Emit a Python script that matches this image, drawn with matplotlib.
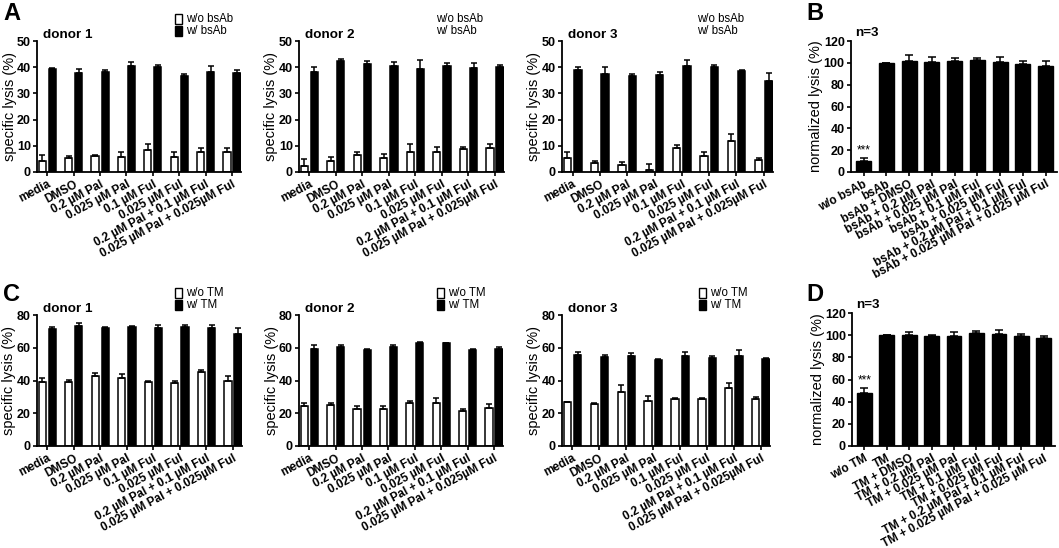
import matplotlib
matplotlib.use("Agg")
import matplotlib.pyplot as plt
import numpy as np
from matplotlib.patches import Rectangle

plt.rcParams['font.family'] = ['Liberation Sans', 'DejaVu Sans']

# ---------------- data ----------------
groups = ["media", "DMSO", "0.2 µM Pal", "0.025 µM Pal", "0.1 µM Ful",
          "0.025 µM Ful", "0.2 µM Pal + 0.1 µM Ful", "0.025 µM Pal + 0.025µM Ful"]

# Panel A (bsAb)
a1_wo = [4.1, 5.3, 6.0, 5.7, 8.5, 5.7, 7.8, 7.5]
a1_wo_err = [2.2, 0.9, 0.6, 1.8, 2.3, 2.1, 1.3, 1.6]
a1_w = [39.2, 37.8, 38.2, 40.4, 40.1, 36.5, 38.1, 37.8]
a1_w_err = [0.5, 1.7, 0.9, 1.4, 0.7, 0.8, 2.5, 1.3]

a2_wo = [2.2, 4.1, 6.3, 5.3, 7.8, 7.8, 8.7, 9.1]
a2_wo_err = [2.7, 1.8, 1.2, 1.4, 2.7, 1.9, 0.7, 1.5]
a2_w = [38.2, 42.4, 41.4, 40.3, 39.2, 40.6, 39.7, 40.1]
a2_w_err = [1.8, 0.8, 1.0, 1.6, 3.5, 1.0, 1.8, 0.9]

a3_wo = [5.3, 3.4, 2.5, 0.8, 9.0, 6.0, 12.0, 4.4]
a3_wo_err = [2.3, 0.8, 1.3, 2.4, 1.3, 1.7, 2.4, 0.9]
a3_w = [38.9, 37.3, 36.7, 37.2, 40.6, 39.9, 38.4, 34.8]
a3_w_err = [1.2, 2.6, 0.6, 0.8, 2.3, 0.9, 0.7, 3.0]

# Panel B (normalized, bsAb)
b_labels = ["w/o bsAb", "bsAb", "bsAb + DMSO", "bsAb + 0.2 µM Pal", "bsAb + 0.025 µM Pal",
            "bsAb + 0.1 µM Ful", "bsAb + 0.025 µM Ful", "bsAb + 0.2 µM Pal + 0.1 µM Ful",
            "bsAb + 0.025 µM Pal + 0.025 µM Ful"]
b_vals = [10.0, 100.0, 101.4, 100.5, 101.7, 103.0, 100.5, 99.3, 97.5]
b_err = [3.0, 0.0, 5.5, 4.9, 3.0, 1.0, 4.9, 2.7, 4.5]

# Panel C (TM)
c1_wo = [39.2, 39.2, 42.5, 41.4, 39.0, 38.2, 45.1, 40.0]
c1_wo_err = [2.6, 1.4, 2.0, 2.5, 0.8, 1.2, 1.5, 2.9]
c1_w = [71.2, 73.2, 71.8, 72.6, 72.2, 72.8, 72.2, 68.5]
c1_w_err = [1.6, 1.7, 1.0, 0.6, 1.8, 1.2, 1.6, 3.5]

c2_wo = [24.4, 25.2, 22.4, 22.4, 26.5, 26.5, 21.5, 23.0]
c2_wo_err = [1.6, 0.8, 2.0, 2.0, 0.8, 2.6, 0.9, 2.6]
c2_w = [59.5, 60.5, 58.5, 60.5, 62.6, 62.6, 58.9, 59.5]
c2_w_err = [2.2, 1.2, 0.8, 1.2, 0.8, 0.6, 0.6, 1.2]

c3_wo = [26.6, 25.8, 32.7, 27.4, 29.0, 28.6, 35.3, 29.0]
c3_wo_err = [0.3, 0.3, 4.4, 3.2, 0.6, 0.6, 3.2, 1.2]
c3_w = [55.8, 54.2, 54.8, 52.7, 55.2, 53.8, 54.8, 53.3]
c3_w_err = [1.4, 1.6, 2.0, 0.6, 2.0, 1.2, 3.6, 0.5]

# Panel D (normalized, TM)
d_labels = ["w/o TM", "TM", "TM + DMSO", "TM + 0.2 µM Pal", "TM + 0.025 µM Pal",
            "TM + 0.1 µM Ful", "TM + 0.025 µM Ful", "TM + 0.2 µM Pal + 0.1 µM Ful",
            "TM + 0.025 µM Pal + 0.025 µM Ful"]
d_vals = [48.0, 100.0, 100.6, 99.0, 99.4, 102.0, 101.4, 99.5, 97.5]
d_err = [4.5, 0.0, 2.4, 1.0, 3.3, 2.1, 3.3, 1.5, 1.3]

# ---------------- layout helpers ----------------
W, H = 1059, 548
fig = plt.figure(figsize=(W / 100, H / 100), dpi=100)


def px_axes(l, t, r, b):
    return fig.add_axes([l / W, 1 - b / H, (r - l) / W, (b - t) / H])


XT_FS = 8.5
YT_FS = 9
LAB_FS = 10.5
ROT = 28


def style(ax):
    for s in ("top", "right"):
        ax.spines[s].set_visible(False)
    for s in ("left", "bottom"):
        ax.spines[s].set_linewidth(1.3)
    ax.tick_params(axis="both", width=1.2, length=3, pad=1.5)
    ax.tick_params(axis="y", labelsize=YT_FS)
    for lab in ax.get_yticklabels():
        lab.set_fontweight("bold")


def grouped(ax, wo, wo_err, w, w_err, ymax, step, title):
    x = np.arange(len(groups))
    bw = 0.27
    off = 0.19
    z = np.zeros(len(groups))
    ax.bar(x - off, wo, bw, color="white", edgecolor="black", linewidth=1.1, zorder=2)
    ax.bar(x + off, w, bw, color="black", edgecolor="black", linewidth=1.1, zorder=2)
    ax.errorbar(x - off, wo, yerr=[z, wo_err], fmt="none", ecolor="black",
                elinewidth=1.1, capsize=2.5, capthick=1.1, zorder=3)
    ax.errorbar(x + off, w, yerr=[z, w_err], fmt="none", ecolor="black",
                elinewidth=1.1, capsize=2.5, capthick=1.1, zorder=3)
    ax.set_xlim(-0.39, len(groups) - 1 + 0.34)
    ax.set_ylim(0, ymax)
    ax.set_yticks(np.arange(0, ymax + 0.1, step))
    ax.set_xticks(x)
    ax.set_xticklabels(groups, rotation=ROT, ha="right", rotation_mode="anchor",
                       fontweight="bold", fontsize=XT_FS)
    style(ax)
    ax.set_ylabel("specific lysis (%)", fontsize=LAB_FS)
    ax.yaxis.set_label_coords(-0.1, 0.5)
    ax.text(0.03, 1.025, title, transform=ax.transAxes, fontsize=9.7,
            fontweight="bold", ha="left", va="baseline")


def single(ax, labels, vals, err, ytitle):
    x = np.arange(len(labels))
    z = np.zeros(len(labels))
    ax.bar(x, vals, 0.66, color="black", edgecolor="black", linewidth=1.0, zorder=2)
    ax.errorbar(x, vals, yerr=[z, err], fmt="none", ecolor="black",
                elinewidth=1.1, capsize=3, capthick=1.1, zorder=3)
    ax.set_xlim(-0.55, len(labels) - 1 + 0.5)
    ax.set_ylim(0, 120)
    ax.set_yticks(np.arange(0, 121, 20))
    ax.set_xticks(x)
    ax.set_xticklabels(labels, rotation=ROT, ha="right", rotation_mode="anchor",
                       fontweight="bold", fontsize=XT_FS)
    style(ax)
    ax.set_ylabel(ytitle, fontsize=LAB_FS)
    ax.yaxis.set_label_coords(-0.135, 0.5)
    ax.text(0.02, 1.035, "n=3", transform=ax.transAxes, fontsize=9.7,
            fontweight="bold", ha="left", va="baseline")
    ax.text(x[0], vals[0] + err[0] + 1, "***", ha="center", va="bottom", fontsize=8.5)


def legend_box(x0, y0, l1, l2, boxes=True):
    # x0,y0 in pixels: top-left of first entry
    if boxes:
        for i, fc in enumerate(["white", "black"]):
            yy = y0 + i * 12
            fig.patches.append(Rectangle((x0 / W, 1 - (yy + 10) / H), 7 / W, 10 / H,
                                         transform=fig.transFigure, facecolor=fc,
                                         edgecolor="black", linewidth=1.0))
        tx = x0 + 11
    else:
        tx = x0
    fig.text(tx / W, 1 - (y0 + 5) / H, l1, fontsize=8.3, va="center", ha="left")
    fig.text(tx / W, 1 - (y0 + 17) / H, l2, fontsize=8.3, va="center", ha="left")


# ---------------- panels ----------------
axA1 = px_axes(37, 41, 241, 172)
grouped(axA1, a1_wo, a1_wo_err, a1_w, a1_w_err, 50, 10, "donor 1")
axA2 = px_axes(299, 41, 504, 172)
grouped(axA2, a2_wo, a2_wo_err, a2_w, a2_w_err, 50, 10, "donor 2")
axA3 = px_axes(562, 41, 773, 172)
grouped(axA3, a3_wo, a3_wo_err, a3_w, a3_w_err, 50, 10, "donor 3")
axB = px_axes(851, 41, 1057, 172)
single(axB, b_labels, b_vals, b_err, "normalized lysis (%)")

axC1 = px_axes(37, 315, 242, 446)
grouped(axC1, c1_wo, c1_wo_err, c1_w, c1_w_err, 80, 20, "donor 1")
axC2 = px_axes(299, 315, 503, 446)
grouped(axC2, c2_wo, c2_wo_err, c2_w, c2_w_err, 80, 20, "donor 2")
axC3 = px_axes(562, 315, 770, 446)
grouped(axC3, c3_wo, c3_wo_err, c3_w, c3_w_err, 80, 20, "donor 3")
axD = px_axes(852, 313, 1055, 446)
single(axD, d_labels, d_vals, d_err, "normalized lysis (%)")

# legends
legend_box(175, 14, "w/o bsAb", "w/ bsAb", boxes=True)
legend_box(436, 14, "w/o bsAb", "w/ bsAb", boxes=False)
legend_box(697, 14, "w/o bsAb", "w/ bsAb", boxes=False)
legend_box(175, 288, "w/o TM", "w/ TM", boxes=True)
legend_box(437, 288, "w/o TM", "w/ TM", boxes=True)
legend_box(699, 288, "w/o TM", "w/ TM", boxes=True)

# panel letters
for lt, (lx, ly) in {"A": (3, 2), "B": (806, 2), "C": (3, 283), "D": (806, 283)}.items():
    fig.text(lx / W, 1 - ly / H, lt, fontsize=17, fontweight="bold", ha="left", va="top")

fig.savefig("out.png", dpi=100)
